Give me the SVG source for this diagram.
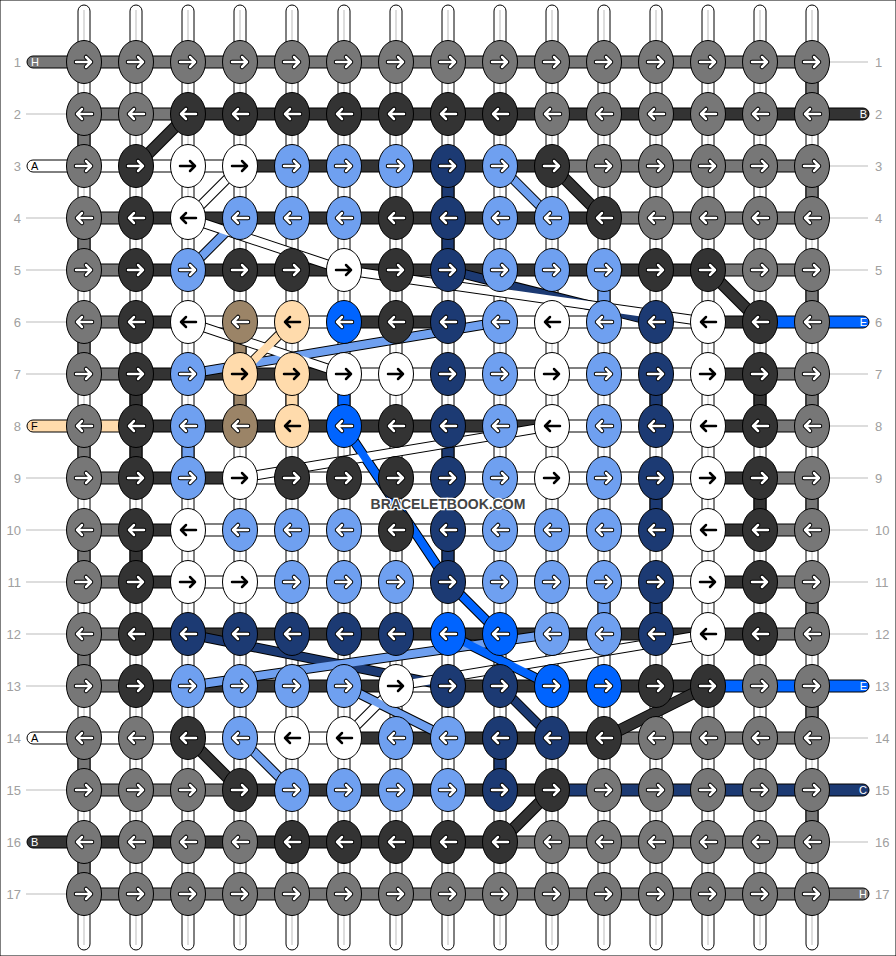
<svg xmlns="http://www.w3.org/2000/svg" xmlns:xlink="http://www.w3.org/1999/xlink" width="896" height="956" viewBox="0 0 896 956">
<style>
.g{fill:#777}.d{fill:#333}.w{fill:#fff}.l{fill:#6fa0f0}.n{fill:#1c3a73}.b{fill:#0064ff}.t{fill:#ffdbac}.r{fill:#9b8467}
rect,ellipse,.stub{stroke:#000;stroke-width:1}
.num{font-family:"Liberation Sans",Arial,sans-serif;font-size:13px;fill:#a0a0a0}
.lt{font-family:"Liberation Sans",Arial,sans-serif;font-size:11px}
.gl{stroke:#bbb;stroke-width:1}
.wm{font-family:"Liberation Sans",Arial,sans-serif;font-size:14px;font-weight:bold;fill:#444;stroke:#fff;stroke-width:2.5;paint-order:stroke;text-anchor:middle}
</style>
<defs>
<ellipse id="k" rx="17.5" ry="21.5"/>
<g id="R" fill="none" stroke-linecap="round" stroke-linejoin="round"><path d="M-8 0H7M2-5L7 0L2 5" stroke="#000" stroke-width="4.5"/><path d="M-8 0H7M2-5L7 0L2 5" stroke="#fff" stroke-width="2.5"/></g>
<g id="L" fill="none" stroke-linecap="round" stroke-linejoin="round"><path d="M8 0H-7M-2-5L-7 0L-2 5" stroke="#000" stroke-width="4.5"/><path d="M8 0H-7M-2-5L-7 0L-2 5" stroke="#fff" stroke-width="2.5"/></g>
<path id="Rb" d="M-8 0H7M2-5L7 0L2 5" fill="none" stroke="#000" stroke-width="2.5" stroke-linecap="round" stroke-linejoin="round"/>
<path id="Lb" d="M8 0H-7M-2-5L-7 0L-2 5" fill="none" stroke="#000" stroke-width="2.5" stroke-linecap="round" stroke-linejoin="round"/>
<rect id="v" x="-6" y="0" width="12" height="52"/>
</defs>
<rect width="896" height="956" fill="#fff"/>
<g id="warps">
<rect class="w" x="78" y="5" width="12" height="945" rx="6"/><rect class="w" x="130" y="5" width="12" height="945" rx="6"/><rect class="w" x="182" y="5" width="12" height="945" rx="6"/><rect class="w" x="234" y="5" width="12" height="945" rx="6"/><rect class="w" x="286" y="5" width="12" height="945" rx="6"/><rect class="w" x="338" y="5" width="12" height="945" rx="6"/><rect class="w" x="390" y="5" width="12" height="945" rx="6"/><rect class="w" x="442" y="5" width="12" height="945" rx="6"/><rect class="w" x="494" y="5" width="12" height="945" rx="6"/><rect class="w" x="546" y="5" width="12" height="945" rx="6"/><rect class="w" x="598" y="5" width="12" height="945" rx="6"/><rect class="w" x="650" y="5" width="12" height="945" rx="6"/><rect class="w" x="702" y="5" width="12" height="945" rx="6"/><rect class="w" x="754" y="5" width="12" height="945" rx="6"/><rect class="w" x="806" y="5" width="12" height="945" rx="6"/>
<g class="gl"><line x1="84" y1="10" x2="84" y2="945"/><line x1="136" y1="10" x2="136" y2="945"/><line x1="188" y1="10" x2="188" y2="945"/><line x1="240" y1="10" x2="240" y2="945"/><line x1="292" y1="10" x2="292" y2="945"/><line x1="344" y1="10" x2="344" y2="945"/><line x1="396" y1="10" x2="396" y2="945"/><line x1="448" y1="10" x2="448" y2="945"/><line x1="500" y1="10" x2="500" y2="945"/><line x1="552" y1="10" x2="552" y2="945"/><line x1="604" y1="10" x2="604" y2="945"/><line x1="656" y1="10" x2="656" y2="945"/><line x1="708" y1="10" x2="708" y2="945"/><line x1="760" y1="10" x2="760" y2="945"/><line x1="812" y1="10" x2="812" y2="945"/></g>
</g>
<g id="labels">
<g class="gl"><line x1="26" y1="114" x2="66" y2="114"/><line x1="26" y1="218" x2="66" y2="218"/><line x1="26" y1="270" x2="66" y2="270"/><line x1="26" y1="322" x2="66" y2="322"/><line x1="26" y1="374" x2="66" y2="374"/><line x1="26" y1="478" x2="66" y2="478"/><line x1="26" y1="530" x2="66" y2="530"/><line x1="26" y1="582" x2="66" y2="582"/><line x1="26" y1="634" x2="66" y2="634"/><line x1="26" y1="686" x2="66" y2="686"/><line x1="26" y1="790" x2="66" y2="790"/><line x1="26" y1="894" x2="66" y2="894"/>
<line x1="830" y1="62" x2="868" y2="62"/><line x1="830" y1="166" x2="868" y2="166"/><line x1="830" y1="218" x2="868" y2="218"/><line x1="830" y1="270" x2="868" y2="270"/><line x1="830" y1="374" x2="868" y2="374"/><line x1="830" y1="426" x2="868" y2="426"/><line x1="830" y1="478" x2="868" y2="478"/><line x1="830" y1="530" x2="868" y2="530"/><line x1="830" y1="582" x2="868" y2="582"/><line x1="830" y1="634" x2="868" y2="634"/><line x1="830" y1="738" x2="868" y2="738"/><line x1="830" y1="842" x2="868" y2="842"/></g>
<g class="num" text-anchor="end"><text x="21" y="66.5">1</text><text x="21" y="118.5">2</text><text x="21" y="170.5">3</text><text x="21" y="222.5">4</text><text x="21" y="274.5">5</text><text x="21" y="326.5">6</text><text x="21" y="378.5">7</text><text x="21" y="430.5">8</text><text x="21" y="482.5">9</text><text x="21" y="534.5">10</text><text x="21" y="586.5">11</text><text x="21" y="638.5">12</text><text x="21" y="690.5">13</text><text x="21" y="742.5">14</text><text x="21" y="794.5">15</text><text x="21" y="846.5">16</text><text x="21" y="898.5">17</text></g>
<g class="num"><text x="875" y="66.5">1</text><text x="875" y="118.5">2</text><text x="875" y="170.5">3</text><text x="875" y="222.5">4</text><text x="875" y="274.5">5</text><text x="875" y="326.5">6</text><text x="875" y="378.5">7</text><text x="875" y="430.5">8</text><text x="875" y="482.5">9</text><text x="875" y="534.5">10</text><text x="875" y="586.5">11</text><text x="875" y="638.5">12</text><text x="875" y="690.5">13</text><text x="875" y="742.5">14</text><text x="875" y="794.5">15</text><text x="875" y="846.5">16</text><text x="875" y="898.5">17</text></g>
</g>
<g id="rows">
<path class="stub g" d="M84 56H33A6 6 0 0 0 33 68H84Z"/>
<path class="stub w" d="M84 160H33A6 6 0 0 0 33 172H84Z"/>
<path class="stub t" d="M84 420H33A6 6 0 0 0 33 432H84Z"/>
<path class="stub w" d="M84 732H33A6 6 0 0 0 33 744H84Z"/>
<path class="stub d" d="M84 836H33A6 6 0 0 0 33 848H84Z"/>
<path class="stub d" d="M812 108H863A6 6 0 0 1 863 120H812Z"/>
<path class="stub b" d="M812 316H863A6 6 0 0 1 863 328H812Z"/>
<path class="stub b" d="M812 680H863A6 6 0 0 1 863 692H812Z"/>
<path class="stub n" d="M812 784H863A6 6 0 0 1 863 796H812Z"/>
<path class="stub g" d="M812 888H863A6 6 0 0 1 863 900H812Z"/>
<rect class="g" x="84" y="56" width="728" height="12"/>
<rect class="g" x="84" y="108" width="104" height="12"/><rect class="d" x="188" y="108" width="624" height="12"/>
<rect class="w" x="84" y="160" width="156" height="12"/><rect class="d" x="240" y="160" width="312" height="12"/><rect class="g" x="552" y="160" width="260" height="12"/>
<rect class="g" x="84" y="212" width="52" height="12"/><rect class="d" x="136" y="212" width="468" height="12"/><rect class="g" x="604" y="212" width="208" height="12"/>
<rect class="g" x="84" y="264" width="52" height="12"/><rect class="d" x="136" y="264" width="572" height="12"/><rect class="g" x="708" y="264" width="104" height="12"/>
<rect class="g" x="84" y="316" width="52" height="12"/><rect class="d" x="136" y="316" width="52" height="12"/><rect class="w" x="188" y="316" width="156" height="12"/><rect class="d" x="344" y="316" width="104" height="12"/><rect class="w" x="448" y="316" width="260" height="12"/><rect class="d" x="708" y="316" width="52" height="12"/><rect class="b" x="760" y="316" width="52" height="12"/>
<rect class="g" x="84" y="368" width="52" height="12"/><rect class="d" x="136" y="368" width="208" height="12"/><rect class="w" x="344" y="368" width="364" height="12"/><rect class="d" x="708" y="368" width="52" height="12"/><rect class="g" x="760" y="368" width="52" height="12"/>
<rect class="t" x="84" y="420" width="52" height="12"/><rect class="d" x="136" y="420" width="416" height="12"/><rect class="w" x="552" y="420" width="156" height="12"/><rect class="d" x="708" y="420" width="52" height="12"/><rect class="g" x="760" y="420" width="52" height="12"/>
<rect class="g" x="84" y="472" width="52" height="12"/><rect class="d" x="136" y="472" width="104" height="12"/><rect class="w" x="240" y="472" width="468" height="12"/><rect class="d" x="708" y="472" width="52" height="12"/><rect class="g" x="760" y="472" width="52" height="12"/>
<rect class="g" x="84" y="524" width="52" height="12"/><rect class="d" x="136" y="524" width="52" height="12"/><rect class="w" x="188" y="524" width="520" height="12"/><rect class="d" x="708" y="524" width="52" height="12"/><rect class="g" x="760" y="524" width="52" height="12"/>
<rect class="g" x="84" y="576" width="52" height="12"/><rect class="d" x="136" y="576" width="52" height="12"/><rect class="w" x="188" y="576" width="520" height="12"/><rect class="d" x="708" y="576" width="52" height="12"/><rect class="g" x="760" y="576" width="52" height="12"/>
<rect class="g" x="84" y="628" width="52" height="12"/><rect class="d" x="136" y="628" width="624" height="12"/><rect class="g" x="760" y="628" width="52" height="12"/>
<rect class="g" x="84" y="680" width="52" height="12"/><rect class="d" x="136" y="680" width="260" height="12"/><rect class="w" x="396" y="680" width="52" height="12"/><rect class="d" x="448" y="680" width="260" height="12"/><rect class="b" x="708" y="680" width="104" height="12"/>
<rect class="w" x="84" y="732" width="260" height="12"/><rect class="d" x="344" y="732" width="260" height="12"/><rect class="g" x="604" y="732" width="208" height="12"/>
<rect class="g" x="84" y="784" width="156" height="12"/><rect class="d" x="240" y="784" width="312" height="12"/><rect class="n" x="552" y="784" width="260" height="12"/>
<rect class="d" x="84" y="836" width="416" height="12"/><rect class="g" x="500" y="836" width="312" height="12"/>
<rect class="g" x="84" y="888" width="728" height="12"/>
</g>
<g id="verticals">
<use href="#v" class="g" x="84" y="114"/><use href="#v" class="g" x="84" y="218"/><use href="#v" class="g" x="84" y="322"/><use href="#v" class="g" x="84" y="426"/><use href="#v" class="g" x="84" y="530"/><use href="#v" class="g" x="84" y="634"/><use href="#v" class="g" x="84" y="738"/><use href="#v" class="g" x="84" y="842"/>
<use href="#v" class="g" x="812" y="62"/><use href="#v" class="g" x="812" y="166"/><use href="#v" class="g" x="812" y="270"/><use href="#v" class="g" x="812" y="374"/><use href="#v" class="g" x="812" y="478"/><use href="#v" class="g" x="812" y="582"/><use href="#v" class="g" x="812" y="686"/><use href="#v" class="g" x="812" y="790"/>
<use href="#v" class="d" x="136" y="374"/><use href="#v" class="d" x="136" y="426"/><use href="#v" class="d" x="136" y="530"/>
<use href="#v" class="n" x="448" y="166"/><use href="#v" class="n" x="448" y="218"/><use href="#v" class="n" x="448" y="426"/><use href="#v" class="n" x="448" y="530"/>
<use href="#v" class="n" x="656" y="374"/><use href="#v" class="n" x="656" y="478"/><use href="#v" class="n" x="656" y="582"/>
<use href="#v" class="d" x="760" y="374"/><use href="#v" class="d" x="760" y="478"/>
<use href="#v" class="r" x="240" y="322"/><use href="#v" class="r" x="240" y="374"/>
<use href="#v" class="t" x="292" y="374"/>
<use href="#v" class="b" x="344" y="374"/>
<use href="#v" class="l" x="188" y="426"/>
<use href="#v" class="l" x="604" y="270"/><use href="#v" class="l" x="604" y="582"/>
<use href="#v" class="n" x="500" y="738"/>
</g>
<g id="connectors" fill="none" stroke-linecap="butt">
<g stroke="#000" stroke-width="12">
<line x1="188" y1="114" x2="136" y2="166"/><line x1="552" y1="166" x2="604" y2="218"/><line x1="708" y1="270" x2="760" y2="322"/><line x1="708" y1="686" x2="604" y2="738"/><line x1="188" y1="738" x2="240" y2="790"/><line x1="552" y1="790" x2="500" y2="842"/>
</g>
<g stroke="#333" stroke-width="10">
<line x1="188" y1="114" x2="136" y2="166"/><line x1="552" y1="166" x2="604" y2="218"/><line x1="708" y1="270" x2="760" y2="322"/><line x1="708" y1="686" x2="604" y2="738"/><line x1="188" y1="738" x2="240" y2="790"/><line x1="552" y1="790" x2="500" y2="842"/>
</g>
<g stroke="#000" stroke-width="10">
<line x1="240" y1="166" x2="188" y2="218"/><line x1="240" y1="218" x2="188" y2="270"/><line x1="188" y1="218" x2="344" y2="270"/><line x1="500" y1="166" x2="552" y2="218"/><line x1="448" y1="270" x2="656" y2="322"/><line x1="344" y1="270" x2="708" y2="322"/><line x1="188" y1="374" x2="500" y2="322"/><line x1="188" y1="322" x2="344" y2="374"/><line x1="292" y1="322" x2="240" y2="374"/><line x1="240" y1="478" x2="552" y2="426"/><polyline points="344,426 448,582 500,634"/><line x1="188" y1="634" x2="448" y2="686"/><line x1="188" y1="686" x2="552" y2="634"/><line x1="396" y1="686" x2="708" y2="634"/><line x1="396" y1="686" x2="344" y2="738"/><line x1="344" y1="686" x2="448" y2="738"/><line x1="448" y1="634" x2="552" y2="686"/><line x1="500" y1="686" x2="552" y2="738"/><line x1="240" y1="738" x2="292" y2="790"/>
</g>
<g stroke-width="8">
<line stroke="#fff" x1="240" y1="166" x2="188" y2="218"/><line stroke="#6fa0f0" x1="240" y1="218" x2="188" y2="270"/><line stroke="#fff" x1="188" y1="218" x2="344" y2="270"/><line stroke="#6fa0f0" x1="500" y1="166" x2="552" y2="218"/><line stroke="#1c3a73" x1="448" y1="270" x2="656" y2="322"/><line stroke="#fff" x1="344" y1="270" x2="708" y2="322"/><line stroke="#6fa0f0" x1="188" y1="374" x2="500" y2="322"/><line stroke="#fff" x1="188" y1="322" x2="344" y2="374"/><line stroke="#ffdbac" x1="292" y1="322" x2="240" y2="374"/><line stroke="#fff" x1="240" y1="478" x2="552" y2="426"/><polyline stroke="#0064ff" points="344,426 448,582 500,634"/><line stroke="#1c3a73" x1="188" y1="634" x2="448" y2="686"/><line stroke="#6fa0f0" x1="188" y1="686" x2="552" y2="634"/><line stroke="#fff" x1="396" y1="686" x2="708" y2="634"/><line stroke="#fff" x1="396" y1="686" x2="344" y2="738"/><line stroke="#6fa0f0" x1="344" y1="686" x2="448" y2="738"/><line stroke="#0064ff" x1="448" y1="634" x2="552" y2="686"/><line stroke="#1c3a73" x1="500" y1="686" x2="552" y2="738"/><line stroke="#6fa0f0" x1="240" y1="738" x2="292" y2="790"/>
</g>
</g>
<g id="stubtext" class="lt">
<text x="31" y="66" fill="#fff">H</text><text x="31" y="170" fill="#000">A</text><text x="31" y="430" fill="#000">F</text><text x="31" y="742" fill="#000">A</text><text x="31" y="846" fill="#fff">B</text>
<g text-anchor="end" fill="#fff"><text x="867" y="118">B</text><text x="867" y="326">E</text><text x="867" y="690">E</text><text x="867" y="794">C</text><text x="867" y="898">H</text></g>
</g>
<g id="knots">
<g id="k1-1" class="g"><use href="#k" x="84" y="62"/><use href="#R" x="84" y="62"/></g><g id="k1-2" class="g"><use href="#k" x="136" y="62"/><use href="#R" x="136" y="62"/></g><g id="k1-3" class="g"><use href="#k" x="188" y="62"/><use href="#R" x="188" y="62"/></g><g id="k1-4" class="g"><use href="#k" x="240" y="62"/><use href="#R" x="240" y="62"/></g><g id="k1-5" class="g"><use href="#k" x="292" y="62"/><use href="#R" x="292" y="62"/></g><g id="k1-6" class="g"><use href="#k" x="344" y="62"/><use href="#R" x="344" y="62"/></g><g id="k1-7" class="g"><use href="#k" x="396" y="62"/><use href="#R" x="396" y="62"/></g><g id="k1-8" class="g"><use href="#k" x="448" y="62"/><use href="#R" x="448" y="62"/></g><g id="k1-9" class="g"><use href="#k" x="500" y="62"/><use href="#R" x="500" y="62"/></g><g id="k1-10" class="g"><use href="#k" x="552" y="62"/><use href="#R" x="552" y="62"/></g><g id="k1-11" class="g"><use href="#k" x="604" y="62"/><use href="#R" x="604" y="62"/></g><g id="k1-12" class="g"><use href="#k" x="656" y="62"/><use href="#R" x="656" y="62"/></g><g id="k1-13" class="g"><use href="#k" x="708" y="62"/><use href="#R" x="708" y="62"/></g><g id="k1-14" class="g"><use href="#k" x="760" y="62"/><use href="#R" x="760" y="62"/></g><g id="k1-15" class="g"><use href="#k" x="812" y="62"/><use href="#R" x="812" y="62"/></g>
<g id="k2-1" class="g"><use href="#k" x="84" y="114"/><use href="#L" x="84" y="114"/></g><g id="k2-2" class="g"><use href="#k" x="136" y="114"/><use href="#L" x="136" y="114"/></g><g id="k2-3" class="d"><use href="#k" x="188" y="114"/><use href="#L" x="188" y="114"/></g><g id="k2-4" class="d"><use href="#k" x="240" y="114"/><use href="#L" x="240" y="114"/></g><g id="k2-5" class="d"><use href="#k" x="292" y="114"/><use href="#L" x="292" y="114"/></g><g id="k2-6" class="d"><use href="#k" x="344" y="114"/><use href="#L" x="344" y="114"/></g><g id="k2-7" class="d"><use href="#k" x="396" y="114"/><use href="#L" x="396" y="114"/></g><g id="k2-8" class="d"><use href="#k" x="448" y="114"/><use href="#L" x="448" y="114"/></g><g id="k2-9" class="d"><use href="#k" x="500" y="114"/><use href="#L" x="500" y="114"/></g><g id="k2-10" class="g"><use href="#k" x="552" y="114"/><use href="#L" x="552" y="114"/></g><g id="k2-11" class="g"><use href="#k" x="604" y="114"/><use href="#L" x="604" y="114"/></g><g id="k2-12" class="g"><use href="#k" x="656" y="114"/><use href="#L" x="656" y="114"/></g><g id="k2-13" class="g"><use href="#k" x="708" y="114"/><use href="#L" x="708" y="114"/></g><g id="k2-14" class="g"><use href="#k" x="760" y="114"/><use href="#L" x="760" y="114"/></g><g id="k2-15" class="g"><use href="#k" x="812" y="114"/><use href="#L" x="812" y="114"/></g>
<g id="k3-1" class="g"><use href="#k" x="84" y="166"/><use href="#R" x="84" y="166"/></g><g id="k3-2" class="d"><use href="#k" x="136" y="166"/><use href="#R" x="136" y="166"/></g><g id="k3-3" class="w"><use href="#k" x="188" y="166"/><use href="#Rb" x="188" y="166"/></g><g id="k3-4" class="w"><use href="#k" x="240" y="166"/><use href="#Rb" x="240" y="166"/></g><g id="k3-5" class="l"><use href="#k" x="292" y="166"/><use href="#R" x="292" y="166"/></g><g id="k3-6" class="l"><use href="#k" x="344" y="166"/><use href="#R" x="344" y="166"/></g><g id="k3-7" class="l"><use href="#k" x="396" y="166"/><use href="#R" x="396" y="166"/></g><g id="k3-8" class="n"><use href="#k" x="448" y="166"/><use href="#R" x="448" y="166"/></g><g id="k3-9" class="l"><use href="#k" x="500" y="166"/><use href="#R" x="500" y="166"/></g><g id="k3-10" class="d"><use href="#k" x="552" y="166"/><use href="#R" x="552" y="166"/></g><g id="k3-11" class="g"><use href="#k" x="604" y="166"/><use href="#R" x="604" y="166"/></g><g id="k3-12" class="g"><use href="#k" x="656" y="166"/><use href="#R" x="656" y="166"/></g><g id="k3-13" class="g"><use href="#k" x="708" y="166"/><use href="#R" x="708" y="166"/></g><g id="k3-14" class="g"><use href="#k" x="760" y="166"/><use href="#R" x="760" y="166"/></g><g id="k3-15" class="g"><use href="#k" x="812" y="166"/><use href="#R" x="812" y="166"/></g>
<g id="k4-1" class="g"><use href="#k" x="84" y="218"/><use href="#L" x="84" y="218"/></g><g id="k4-2" class="d"><use href="#k" x="136" y="218"/><use href="#L" x="136" y="218"/></g><g id="k4-3" class="w"><use href="#k" x="188" y="218"/><use href="#Lb" x="188" y="218"/></g><g id="k4-4" class="l"><use href="#k" x="240" y="218"/><use href="#L" x="240" y="218"/></g><g id="k4-5" class="l"><use href="#k" x="292" y="218"/><use href="#L" x="292" y="218"/></g><g id="k4-6" class="l"><use href="#k" x="344" y="218"/><use href="#L" x="344" y="218"/></g><g id="k4-7" class="d"><use href="#k" x="396" y="218"/><use href="#L" x="396" y="218"/></g><g id="k4-8" class="n"><use href="#k" x="448" y="218"/><use href="#L" x="448" y="218"/></g><g id="k4-9" class="l"><use href="#k" x="500" y="218"/><use href="#L" x="500" y="218"/></g><g id="k4-10" class="l"><use href="#k" x="552" y="218"/><use href="#L" x="552" y="218"/></g><g id="k4-11" class="d"><use href="#k" x="604" y="218"/><use href="#L" x="604" y="218"/></g><g id="k4-12" class="g"><use href="#k" x="656" y="218"/><use href="#L" x="656" y="218"/></g><g id="k4-13" class="g"><use href="#k" x="708" y="218"/><use href="#L" x="708" y="218"/></g><g id="k4-14" class="g"><use href="#k" x="760" y="218"/><use href="#L" x="760" y="218"/></g><g id="k4-15" class="g"><use href="#k" x="812" y="218"/><use href="#L" x="812" y="218"/></g>
<g id="k5-1" class="g"><use href="#k" x="84" y="270"/><use href="#R" x="84" y="270"/></g><g id="k5-2" class="d"><use href="#k" x="136" y="270"/><use href="#R" x="136" y="270"/></g><g id="k5-3" class="l"><use href="#k" x="188" y="270"/><use href="#R" x="188" y="270"/></g><g id="k5-4" class="d"><use href="#k" x="240" y="270"/><use href="#R" x="240" y="270"/></g><g id="k5-5" class="d"><use href="#k" x="292" y="270"/><use href="#R" x="292" y="270"/></g><g id="k5-6" class="w"><use href="#k" x="344" y="270"/><use href="#Rb" x="344" y="270"/></g><g id="k5-7" class="d"><use href="#k" x="396" y="270"/><use href="#R" x="396" y="270"/></g><g id="k5-8" class="n"><use href="#k" x="448" y="270"/><use href="#R" x="448" y="270"/></g><g id="k5-9" class="l"><use href="#k" x="500" y="270"/><use href="#R" x="500" y="270"/></g><g id="k5-10" class="l"><use href="#k" x="552" y="270"/><use href="#R" x="552" y="270"/></g><g id="k5-11" class="l"><use href="#k" x="604" y="270"/><use href="#R" x="604" y="270"/></g><g id="k5-12" class="d"><use href="#k" x="656" y="270"/><use href="#R" x="656" y="270"/></g><g id="k5-13" class="d"><use href="#k" x="708" y="270"/><use href="#R" x="708" y="270"/></g><g id="k5-14" class="g"><use href="#k" x="760" y="270"/><use href="#R" x="760" y="270"/></g><g id="k5-15" class="g"><use href="#k" x="812" y="270"/><use href="#R" x="812" y="270"/></g>
<g id="k6-1" class="g"><use href="#k" x="84" y="322"/><use href="#L" x="84" y="322"/></g><g id="k6-2" class="d"><use href="#k" x="136" y="322"/><use href="#L" x="136" y="322"/></g><g id="k6-3" class="w"><use href="#k" x="188" y="322"/><use href="#Lb" x="188" y="322"/></g><g id="k6-4" class="r"><use href="#k" x="240" y="322"/><use href="#L" x="240" y="322"/></g><g id="k6-5" class="t"><use href="#k" x="292" y="322"/><use href="#Lb" x="292" y="322"/></g><g id="k6-6" class="b"><use href="#k" x="344" y="322"/><use href="#L" x="344" y="322"/></g><g id="k6-7" class="d"><use href="#k" x="396" y="322"/><use href="#L" x="396" y="322"/></g><g id="k6-8" class="n"><use href="#k" x="448" y="322"/><use href="#L" x="448" y="322"/></g><g id="k6-9" class="l"><use href="#k" x="500" y="322"/><use href="#L" x="500" y="322"/></g><g id="k6-10" class="w"><use href="#k" x="552" y="322"/><use href="#Lb" x="552" y="322"/></g><g id="k6-11" class="l"><use href="#k" x="604" y="322"/><use href="#L" x="604" y="322"/></g><g id="k6-12" class="n"><use href="#k" x="656" y="322"/><use href="#L" x="656" y="322"/></g><g id="k6-13" class="w"><use href="#k" x="708" y="322"/><use href="#Lb" x="708" y="322"/></g><g id="k6-14" class="d"><use href="#k" x="760" y="322"/><use href="#L" x="760" y="322"/></g><g id="k6-15" class="g"><use href="#k" x="812" y="322"/><use href="#L" x="812" y="322"/></g>
<g id="k7-1" class="g"><use href="#k" x="84" y="374"/><use href="#R" x="84" y="374"/></g><g id="k7-2" class="d"><use href="#k" x="136" y="374"/><use href="#R" x="136" y="374"/></g><g id="k7-3" class="l"><use href="#k" x="188" y="374"/><use href="#R" x="188" y="374"/></g><g id="k7-4" class="t"><use href="#k" x="240" y="374"/><use href="#Rb" x="240" y="374"/></g><g id="k7-5" class="t"><use href="#k" x="292" y="374"/><use href="#Rb" x="292" y="374"/></g><g id="k7-6" class="w"><use href="#k" x="344" y="374"/><use href="#Rb" x="344" y="374"/></g><g id="k7-7" class="w"><use href="#k" x="396" y="374"/><use href="#Rb" x="396" y="374"/></g><g id="k7-8" class="n"><use href="#k" x="448" y="374"/><use href="#R" x="448" y="374"/></g><g id="k7-9" class="l"><use href="#k" x="500" y="374"/><use href="#R" x="500" y="374"/></g><g id="k7-10" class="w"><use href="#k" x="552" y="374"/><use href="#Rb" x="552" y="374"/></g><g id="k7-11" class="l"><use href="#k" x="604" y="374"/><use href="#R" x="604" y="374"/></g><g id="k7-12" class="n"><use href="#k" x="656" y="374"/><use href="#R" x="656" y="374"/></g><g id="k7-13" class="w"><use href="#k" x="708" y="374"/><use href="#Rb" x="708" y="374"/></g><g id="k7-14" class="d"><use href="#k" x="760" y="374"/><use href="#R" x="760" y="374"/></g><g id="k7-15" class="g"><use href="#k" x="812" y="374"/><use href="#R" x="812" y="374"/></g>
<g id="k8-1" class="g"><use href="#k" x="84" y="426"/><use href="#L" x="84" y="426"/></g><g id="k8-2" class="d"><use href="#k" x="136" y="426"/><use href="#L" x="136" y="426"/></g><g id="k8-3" class="l"><use href="#k" x="188" y="426"/><use href="#L" x="188" y="426"/></g><g id="k8-4" class="r"><use href="#k" x="240" y="426"/><use href="#L" x="240" y="426"/></g><g id="k8-5" class="t"><use href="#k" x="292" y="426"/><use href="#Lb" x="292" y="426"/></g><g id="k8-6" class="b"><use href="#k" x="344" y="426"/><use href="#L" x="344" y="426"/></g><g id="k8-7" class="d"><use href="#k" x="396" y="426"/><use href="#L" x="396" y="426"/></g><g id="k8-8" class="n"><use href="#k" x="448" y="426"/><use href="#L" x="448" y="426"/></g><g id="k8-9" class="l"><use href="#k" x="500" y="426"/><use href="#L" x="500" y="426"/></g><g id="k8-10" class="w"><use href="#k" x="552" y="426"/><use href="#Lb" x="552" y="426"/></g><g id="k8-11" class="l"><use href="#k" x="604" y="426"/><use href="#L" x="604" y="426"/></g><g id="k8-12" class="n"><use href="#k" x="656" y="426"/><use href="#L" x="656" y="426"/></g><g id="k8-13" class="w"><use href="#k" x="708" y="426"/><use href="#Lb" x="708" y="426"/></g><g id="k8-14" class="d"><use href="#k" x="760" y="426"/><use href="#L" x="760" y="426"/></g><g id="k8-15" class="g"><use href="#k" x="812" y="426"/><use href="#L" x="812" y="426"/></g>
<g id="k9-1" class="g"><use href="#k" x="84" y="478"/><use href="#R" x="84" y="478"/></g><g id="k9-2" class="d"><use href="#k" x="136" y="478"/><use href="#R" x="136" y="478"/></g><g id="k9-3" class="l"><use href="#k" x="188" y="478"/><use href="#R" x="188" y="478"/></g><g id="k9-4" class="w"><use href="#k" x="240" y="478"/><use href="#Rb" x="240" y="478"/></g><g id="k9-5" class="d"><use href="#k" x="292" y="478"/><use href="#R" x="292" y="478"/></g><g id="k9-6" class="d"><use href="#k" x="344" y="478"/><use href="#R" x="344" y="478"/></g><g id="k9-7" class="d"><use href="#k" x="396" y="478"/><use href="#R" x="396" y="478"/></g><g id="k9-8" class="n"><use href="#k" x="448" y="478"/><use href="#R" x="448" y="478"/></g><g id="k9-9" class="l"><use href="#k" x="500" y="478"/><use href="#R" x="500" y="478"/></g><g id="k9-10" class="w"><use href="#k" x="552" y="478"/><use href="#Rb" x="552" y="478"/></g><g id="k9-11" class="l"><use href="#k" x="604" y="478"/><use href="#R" x="604" y="478"/></g><g id="k9-12" class="n"><use href="#k" x="656" y="478"/><use href="#R" x="656" y="478"/></g><g id="k9-13" class="w"><use href="#k" x="708" y="478"/><use href="#Rb" x="708" y="478"/></g><g id="k9-14" class="d"><use href="#k" x="760" y="478"/><use href="#R" x="760" y="478"/></g><g id="k9-15" class="g"><use href="#k" x="812" y="478"/><use href="#R" x="812" y="478"/></g>
<g id="k10-1" class="g"><use href="#k" x="84" y="530"/><use href="#L" x="84" y="530"/></g><g id="k10-2" class="d"><use href="#k" x="136" y="530"/><use href="#L" x="136" y="530"/></g><g id="k10-3" class="w"><use href="#k" x="188" y="530"/><use href="#Lb" x="188" y="530"/></g><g id="k10-4" class="l"><use href="#k" x="240" y="530"/><use href="#L" x="240" y="530"/></g><g id="k10-5" class="l"><use href="#k" x="292" y="530"/><use href="#L" x="292" y="530"/></g><g id="k10-6" class="l"><use href="#k" x="344" y="530"/><use href="#L" x="344" y="530"/></g><g id="k10-7" class="d"><use href="#k" x="396" y="530"/><use href="#L" x="396" y="530"/></g><g id="k10-8" class="n"><use href="#k" x="448" y="530"/><use href="#L" x="448" y="530"/></g><g id="k10-9" class="l"><use href="#k" x="500" y="530"/><use href="#L" x="500" y="530"/></g><g id="k10-10" class="l"><use href="#k" x="552" y="530"/><use href="#L" x="552" y="530"/></g><g id="k10-11" class="l"><use href="#k" x="604" y="530"/><use href="#L" x="604" y="530"/></g><g id="k10-12" class="n"><use href="#k" x="656" y="530"/><use href="#L" x="656" y="530"/></g><g id="k10-13" class="w"><use href="#k" x="708" y="530"/><use href="#Lb" x="708" y="530"/></g><g id="k10-14" class="d"><use href="#k" x="760" y="530"/><use href="#L" x="760" y="530"/></g><g id="k10-15" class="g"><use href="#k" x="812" y="530"/><use href="#L" x="812" y="530"/></g>
<g id="k11-1" class="g"><use href="#k" x="84" y="582"/><use href="#R" x="84" y="582"/></g><g id="k11-2" class="d"><use href="#k" x="136" y="582"/><use href="#R" x="136" y="582"/></g><g id="k11-3" class="w"><use href="#k" x="188" y="582"/><use href="#Rb" x="188" y="582"/></g><g id="k11-4" class="w"><use href="#k" x="240" y="582"/><use href="#Rb" x="240" y="582"/></g><g id="k11-5" class="l"><use href="#k" x="292" y="582"/><use href="#R" x="292" y="582"/></g><g id="k11-6" class="l"><use href="#k" x="344" y="582"/><use href="#R" x="344" y="582"/></g><g id="k11-7" class="l"><use href="#k" x="396" y="582"/><use href="#R" x="396" y="582"/></g><g id="k11-8" class="n"><use href="#k" x="448" y="582"/><use href="#R" x="448" y="582"/></g><g id="k11-9" class="l"><use href="#k" x="500" y="582"/><use href="#R" x="500" y="582"/></g><g id="k11-10" class="l"><use href="#k" x="552" y="582"/><use href="#R" x="552" y="582"/></g><g id="k11-11" class="l"><use href="#k" x="604" y="582"/><use href="#R" x="604" y="582"/></g><g id="k11-12" class="n"><use href="#k" x="656" y="582"/><use href="#R" x="656" y="582"/></g><g id="k11-13" class="w"><use href="#k" x="708" y="582"/><use href="#Rb" x="708" y="582"/></g><g id="k11-14" class="d"><use href="#k" x="760" y="582"/><use href="#R" x="760" y="582"/></g><g id="k11-15" class="g"><use href="#k" x="812" y="582"/><use href="#R" x="812" y="582"/></g>
<g id="k12-1" class="g"><use href="#k" x="84" y="634"/><use href="#L" x="84" y="634"/></g><g id="k12-2" class="d"><use href="#k" x="136" y="634"/><use href="#L" x="136" y="634"/></g><g id="k12-3" class="n"><use href="#k" x="188" y="634"/><use href="#L" x="188" y="634"/></g><g id="k12-4" class="n"><use href="#k" x="240" y="634"/><use href="#L" x="240" y="634"/></g><g id="k12-5" class="n"><use href="#k" x="292" y="634"/><use href="#L" x="292" y="634"/></g><g id="k12-6" class="n"><use href="#k" x="344" y="634"/><use href="#L" x="344" y="634"/></g><g id="k12-7" class="n"><use href="#k" x="396" y="634"/><use href="#L" x="396" y="634"/></g><g id="k12-8" class="b"><use href="#k" x="448" y="634"/><use href="#L" x="448" y="634"/></g><g id="k12-9" class="b"><use href="#k" x="500" y="634"/><use href="#L" x="500" y="634"/></g><g id="k12-10" class="l"><use href="#k" x="552" y="634"/><use href="#L" x="552" y="634"/></g><g id="k12-11" class="l"><use href="#k" x="604" y="634"/><use href="#L" x="604" y="634"/></g><g id="k12-12" class="n"><use href="#k" x="656" y="634"/><use href="#L" x="656" y="634"/></g><g id="k12-13" class="w"><use href="#k" x="708" y="634"/><use href="#Lb" x="708" y="634"/></g><g id="k12-14" class="d"><use href="#k" x="760" y="634"/><use href="#L" x="760" y="634"/></g><g id="k12-15" class="g"><use href="#k" x="812" y="634"/><use href="#L" x="812" y="634"/></g>
<g id="k13-1" class="g"><use href="#k" x="84" y="686"/><use href="#R" x="84" y="686"/></g><g id="k13-2" class="d"><use href="#k" x="136" y="686"/><use href="#R" x="136" y="686"/></g><g id="k13-3" class="l"><use href="#k" x="188" y="686"/><use href="#R" x="188" y="686"/></g><g id="k13-4" class="l"><use href="#k" x="240" y="686"/><use href="#R" x="240" y="686"/></g><g id="k13-5" class="l"><use href="#k" x="292" y="686"/><use href="#R" x="292" y="686"/></g><g id="k13-6" class="l"><use href="#k" x="344" y="686"/><use href="#R" x="344" y="686"/></g><g id="k13-7" class="w"><use href="#k" x="396" y="686"/><use href="#Rb" x="396" y="686"/></g><g id="k13-8" class="n"><use href="#k" x="448" y="686"/><use href="#R" x="448" y="686"/></g><g id="k13-9" class="n"><use href="#k" x="500" y="686"/><use href="#R" x="500" y="686"/></g><g id="k13-10" class="b"><use href="#k" x="552" y="686"/><use href="#R" x="552" y="686"/></g><g id="k13-11" class="b"><use href="#k" x="604" y="686"/><use href="#R" x="604" y="686"/></g><g id="k13-12" class="d"><use href="#k" x="656" y="686"/><use href="#R" x="656" y="686"/></g><g id="k13-13" class="d"><use href="#k" x="708" y="686"/><use href="#R" x="708" y="686"/></g><g id="k13-14" class="g"><use href="#k" x="760" y="686"/><use href="#R" x="760" y="686"/></g><g id="k13-15" class="g"><use href="#k" x="812" y="686"/><use href="#R" x="812" y="686"/></g>
<g id="k14-1" class="g"><use href="#k" x="84" y="738"/><use href="#L" x="84" y="738"/></g><g id="k14-2" class="g"><use href="#k" x="136" y="738"/><use href="#L" x="136" y="738"/></g><g id="k14-3" class="d"><use href="#k" x="188" y="738"/><use href="#L" x="188" y="738"/></g><g id="k14-4" class="l"><use href="#k" x="240" y="738"/><use href="#L" x="240" y="738"/></g><g id="k14-5" class="w"><use href="#k" x="292" y="738"/><use href="#Lb" x="292" y="738"/></g><g id="k14-6" class="w"><use href="#k" x="344" y="738"/><use href="#Lb" x="344" y="738"/></g><g id="k14-7" class="l"><use href="#k" x="396" y="738"/><use href="#L" x="396" y="738"/></g><g id="k14-8" class="l"><use href="#k" x="448" y="738"/><use href="#L" x="448" y="738"/></g><g id="k14-9" class="n"><use href="#k" x="500" y="738"/><use href="#L" x="500" y="738"/></g><g id="k14-10" class="n"><use href="#k" x="552" y="738"/><use href="#L" x="552" y="738"/></g><g id="k14-11" class="d"><use href="#k" x="604" y="738"/><use href="#L" x="604" y="738"/></g><g id="k14-12" class="g"><use href="#k" x="656" y="738"/><use href="#L" x="656" y="738"/></g><g id="k14-13" class="g"><use href="#k" x="708" y="738"/><use href="#L" x="708" y="738"/></g><g id="k14-14" class="g"><use href="#k" x="760" y="738"/><use href="#L" x="760" y="738"/></g><g id="k14-15" class="g"><use href="#k" x="812" y="738"/><use href="#L" x="812" y="738"/></g>
<g id="k15-1" class="g"><use href="#k" x="84" y="790"/><use href="#R" x="84" y="790"/></g><g id="k15-2" class="g"><use href="#k" x="136" y="790"/><use href="#R" x="136" y="790"/></g><g id="k15-3" class="g"><use href="#k" x="188" y="790"/><use href="#R" x="188" y="790"/></g><g id="k15-4" class="d"><use href="#k" x="240" y="790"/><use href="#R" x="240" y="790"/></g><g id="k15-5" class="l"><use href="#k" x="292" y="790"/><use href="#R" x="292" y="790"/></g><g id="k15-6" class="l"><use href="#k" x="344" y="790"/><use href="#R" x="344" y="790"/></g><g id="k15-7" class="l"><use href="#k" x="396" y="790"/><use href="#R" x="396" y="790"/></g><g id="k15-8" class="l"><use href="#k" x="448" y="790"/><use href="#R" x="448" y="790"/></g><g id="k15-9" class="n"><use href="#k" x="500" y="790"/><use href="#R" x="500" y="790"/></g><g id="k15-10" class="d"><use href="#k" x="552" y="790"/><use href="#R" x="552" y="790"/></g><g id="k15-11" class="g"><use href="#k" x="604" y="790"/><use href="#R" x="604" y="790"/></g><g id="k15-12" class="g"><use href="#k" x="656" y="790"/><use href="#R" x="656" y="790"/></g><g id="k15-13" class="g"><use href="#k" x="708" y="790"/><use href="#R" x="708" y="790"/></g><g id="k15-14" class="g"><use href="#k" x="760" y="790"/><use href="#R" x="760" y="790"/></g><g id="k15-15" class="g"><use href="#k" x="812" y="790"/><use href="#R" x="812" y="790"/></g>
<g id="k16-1" class="g"><use href="#k" x="84" y="842"/><use href="#L" x="84" y="842"/></g><g id="k16-2" class="g"><use href="#k" x="136" y="842"/><use href="#L" x="136" y="842"/></g><g id="k16-3" class="g"><use href="#k" x="188" y="842"/><use href="#L" x="188" y="842"/></g><g id="k16-4" class="g"><use href="#k" x="240" y="842"/><use href="#L" x="240" y="842"/></g><g id="k16-5" class="d"><use href="#k" x="292" y="842"/><use href="#L" x="292" y="842"/></g><g id="k16-6" class="d"><use href="#k" x="344" y="842"/><use href="#L" x="344" y="842"/></g><g id="k16-7" class="d"><use href="#k" x="396" y="842"/><use href="#L" x="396" y="842"/></g><g id="k16-8" class="d"><use href="#k" x="448" y="842"/><use href="#L" x="448" y="842"/></g><g id="k16-9" class="d"><use href="#k" x="500" y="842"/><use href="#L" x="500" y="842"/></g><g id="k16-10" class="g"><use href="#k" x="552" y="842"/><use href="#L" x="552" y="842"/></g><g id="k16-11" class="g"><use href="#k" x="604" y="842"/><use href="#L" x="604" y="842"/></g><g id="k16-12" class="g"><use href="#k" x="656" y="842"/><use href="#L" x="656" y="842"/></g><g id="k16-13" class="g"><use href="#k" x="708" y="842"/><use href="#L" x="708" y="842"/></g><g id="k16-14" class="g"><use href="#k" x="760" y="842"/><use href="#L" x="760" y="842"/></g><g id="k16-15" class="g"><use href="#k" x="812" y="842"/><use href="#L" x="812" y="842"/></g>
<g id="k17-1" class="g"><use href="#k" x="84" y="894"/><use href="#R" x="84" y="894"/></g><g id="k17-2" class="g"><use href="#k" x="136" y="894"/><use href="#R" x="136" y="894"/></g><g id="k17-3" class="g"><use href="#k" x="188" y="894"/><use href="#R" x="188" y="894"/></g><g id="k17-4" class="g"><use href="#k" x="240" y="894"/><use href="#R" x="240" y="894"/></g><g id="k17-5" class="g"><use href="#k" x="292" y="894"/><use href="#R" x="292" y="894"/></g><g id="k17-6" class="g"><use href="#k" x="344" y="894"/><use href="#R" x="344" y="894"/></g><g id="k17-7" class="g"><use href="#k" x="396" y="894"/><use href="#R" x="396" y="894"/></g><g id="k17-8" class="g"><use href="#k" x="448" y="894"/><use href="#R" x="448" y="894"/></g><g id="k17-9" class="g"><use href="#k" x="500" y="894"/><use href="#R" x="500" y="894"/></g><g id="k17-10" class="g"><use href="#k" x="552" y="894"/><use href="#R" x="552" y="894"/></g><g id="k17-11" class="g"><use href="#k" x="604" y="894"/><use href="#R" x="604" y="894"/></g><g id="k17-12" class="g"><use href="#k" x="656" y="894"/><use href="#R" x="656" y="894"/></g><g id="k17-13" class="g"><use href="#k" x="708" y="894"/><use href="#R" x="708" y="894"/></g><g id="k17-14" class="g"><use href="#k" x="760" y="894"/><use href="#R" x="760" y="894"/></g><g id="k17-15" class="g"><use href="#k" x="812" y="894"/><use href="#R" x="812" y="894"/></g>
</g>
<text class="wm" x="448" y="509">BRACELETBOOK.COM</text>
</svg>
